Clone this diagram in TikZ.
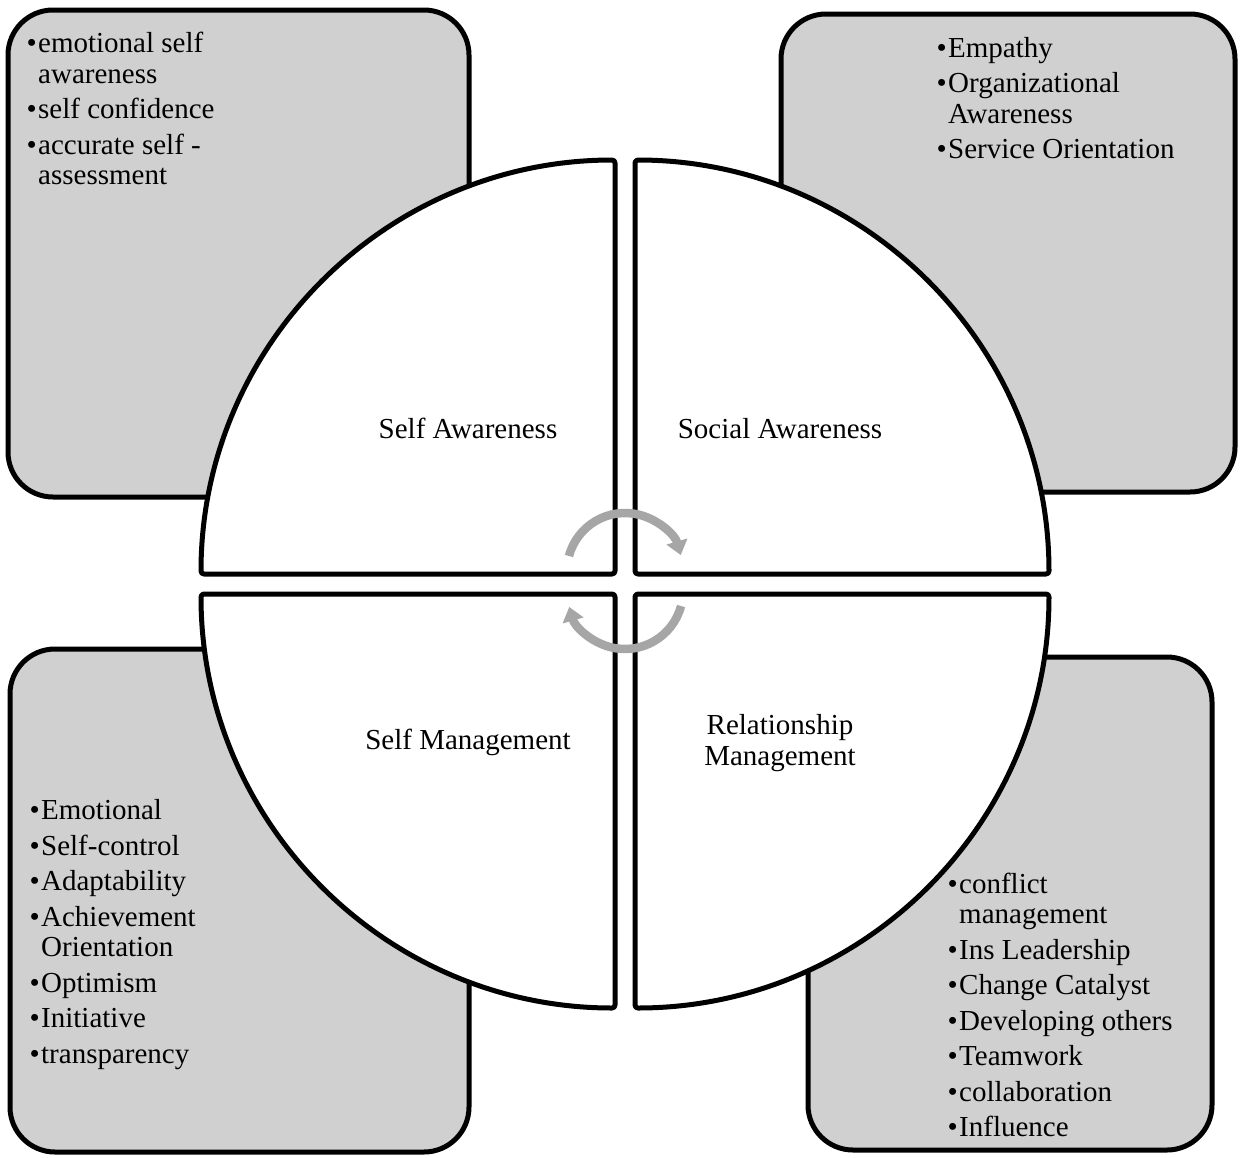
\documentclass[tikz,border=0pt]{standalone}
\usepackage{fontspec}
\setmainfont{Liberation Serif}
\usetikzlibrary{arrows.meta}

\definecolor{boxgray}{RGB}{208,208,208}
\definecolor{arrowgray}{RGB}{166,166,166}

% bullet item with hanging indent
\newlength\bulletw
\setlength\bulletw{11.5pt}
\newcommand\bl[1]{\noindent\hangindent=\bulletw\hangafter=1\makebox[\bulletw][l]{\textbullet}#1\par}
\newcommand\listfont{\fontsize{29}{30.5}\selectfont\spaceskip=0pt\xspaceskip=0pt\setlength\parskip{5pt}}

\begin{document}
\begin{tikzpicture}[x=1pt,y=-1pt,
  box/.style={draw=black, line width=5pt, fill=boxgray, rounded corners=45pt,
    inner sep=0pt, outer sep=0pt},
  quad/.style={draw=black, line width=5pt, fill=white, rounded corners=3pt, line join=round},
  cyc/.style={draw=arrowgray, line width=8.5pt, -{Triangle[width=21pt,length=14pt]}},
  lbl/.style={font=\fontsize{29}{31}\selectfont, inner sep=0pt, align=center},
  lst/.style={anchor=base west, inner sep=0pt, text width=420pt, align=left,
    font=\fontsize{29}{30.5}\selectfont}]
\useasboundingbox (0,0) rectangle (1240,1157);

% corner panels
\node[box, minimum width=461pt, minimum height=487pt] (tlbox) at (238.5,253.5) {};
\node[box, minimum width=454pt, minimum height=478pt] (trbox) at (1008,253) {};
\node[box, minimum width=459pt, minimum height=503pt] (blbox) at (239.5,900.5) {};
\node[box, minimum width=404pt, minimum height=493pt] (brbox) at (1010,903.5) {};

% four quarters of the central disc
\draw[quad] (615,574) -- (201,574) arc[start angle=180, end angle=270, radius=414] -- cycle;
\draw[quad] (635,574) -- (635,160) arc[start angle=270, end angle=360, radius=414] -- cycle;
\draw[quad] (635,594) -- (1049,594) arc[start angle=0, end angle=90, radius=414] -- cycle;
\draw[quad] (615,594) -- (615,1008) arc[start angle=90, end angle=180, radius=414] -- cycle;

% cycle arrows in the middle
\coordinate (ctop) at (625,571);
\coordinate (cbot) at (625,591);
\draw[cyc] ([shift={(195:58)}]ctop) arc[start angle=195, end angle=344, radius=58];
\draw[cyc] ([shift={(15:58)}]cbot) arc[start angle=15, end angle=164, radius=58];

% quarter titles
\node[lbl, anchor=base] (sa) at (468,438) {Self Awareness};
\node[lbl, anchor=base] (soa) at (780,438) {Social Awareness};
\node[lbl, anchor=base] (sm) at (468,749) {Self Management};
\node[lbl, anchor=center] (rm) at (780,743.5) {Relationship\\Management};

% competency lists
\node[lst] (tllist) at (26.5,52.5) {\listfont
  \bl{emotional self\newline awareness}
  \bl{self confidence}
  \bl{accurate self -\newline assessment}};
\node[lst] (trlist) at (936.5,57) {\listfont
  \bl{Empathy}
  \bl{Organizational\newline Awareness}
  \bl{Service Orientation}};
\node[lst] (bllist) at (29.5,819.5) {\listfont
  \bl{Emotional}
  \bl{Self-control}
  \bl{Adaptability}
  \bl{Achievement\newline Orientation}
  \bl{Optimism}
  \bl{Initiative}
  \bl{transparency}};
\node[lst] (brlist) at (947.5,893) {\listfont
  \bl{conflict\newline management}
  \bl{Ins Leadership}
  \bl{Change Catalyst}
  \bl{Developing others}
  \bl{Teamwork}
  \bl{collaboration}
  \bl{Influence}};
\end{tikzpicture}
\end{document}
